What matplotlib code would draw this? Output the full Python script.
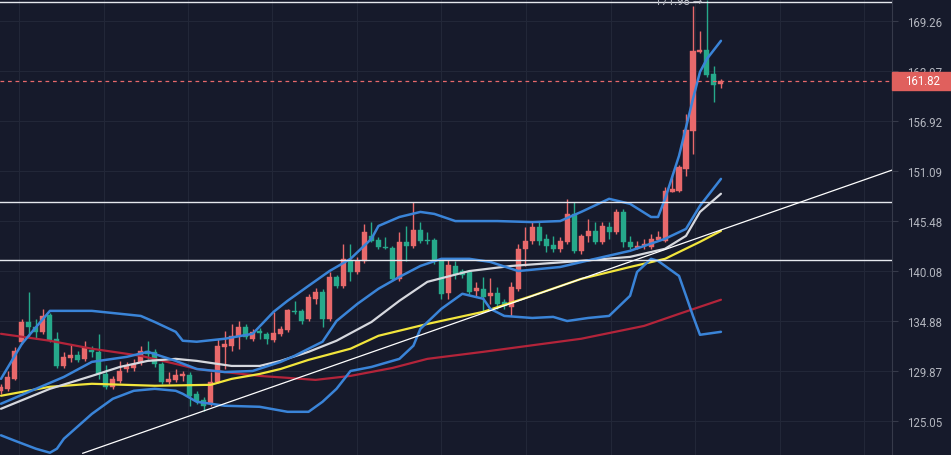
import numpy as np
import matplotlib.pyplot as plt
from matplotlib.patches import Rectangle
import matplotlib.transforms as mtransforms

# ---- candles (bar index 0..103) ----
opens = [127.97, 128.16, 129.13, 132.81, 134.81, 134.31, 133.81, 135.53, 133.11, 130.40,
         131.20, 131.50, 131.10, 132.01, 131.80, 129.61, 128.36, 128.94, 130.10, 130.20,
         130.80, 131.91, 131.80, 130.60, 128.84, 129.03, 129.42, 129.51, 127.68, 127.10,
         126.72, 128.84, 132.31, 132.41, 133.41, 134.31, 133.11, 133.91, 133.61, 133.01,
         133.61, 134.01, 135.95, 135.95, 135.12, 137.20, 137.93, 135.12, 139.49, 138.55,
         141.19, 140.01, 141.19, 143.89, 143.46, 142.70, 142.60, 139.28, 143.24, 142.81,
         144.54, 143.46, 143.46, 141.19, 137.82, 140.65, 140.11, 140.01, 138.03, 138.24,
         137.51, 137.82, 136.89, 136.37, 138.24, 142.49, 143.35, 144.86, 143.57, 142.92,
         142.49, 143.24, 146.30, 142.27, 143.89, 144.43, 143.24, 144.86, 144.32, 146.52,
         143.24, 142.60, 142.81, 142.70, 143.46, 143.35, 148.77, 148.88, 151.36, 155.79,
         165.40, 165.65, 162.64, 161.43]
highs = [128.65, 129.90, 132.31, 135.12, 137.93, 135.12, 136.16, 135.74, 133.81, 131.80,
         132.61, 131.91, 132.91, 132.41, 133.61, 130.50, 129.42, 130.90, 130.80, 131.10,
         132.41, 132.91, 132.11, 130.80, 129.80, 130.10, 129.90, 129.80, 127.97, 127.39,
         129.80, 133.11, 133.91, 134.61, 134.91, 134.61, 134.11, 134.21, 133.81, 135.85,
         134.41, 136.16, 136.99, 136.16, 137.72, 138.34, 138.24, 140.01, 139.70, 143.03,
         143.03, 141.62, 145.19, 145.40, 143.78, 143.78, 142.81, 144.32, 144.97, 147.65,
         145.40, 144.32, 143.68, 141.41, 141.41, 141.19, 140.33, 140.22, 138.97, 139.49,
         139.38, 138.45, 137.20, 138.97, 143.03, 144.86, 145.40, 145.40, 144.11, 143.89,
         143.78, 147.98, 147.65, 144.11, 145.74, 145.40, 145.40, 145.40, 146.86, 146.86,
         143.89, 143.35, 143.57, 144.11, 144.43, 149.33, 150.56, 151.82, 157.80, 171.18,
         168.04, 171.98, 163.64, 162.04]
lows = [127.68, 127.97, 129.03, 132.61, 133.31, 133.11, 133.61, 132.81, 130.20, 130.20,
        130.80, 130.80, 130.90, 131.30, 129.13, 128.16, 128.16, 128.74, 129.80, 129.90,
        130.50, 131.10, 130.30, 128.65, 128.65, 128.84, 128.94, 126.52, 126.72, 126.04,
        126.52, 128.74, 130.10, 131.91, 132.11, 133.11, 132.91, 133.11, 132.61, 132.81,
        133.41, 133.81, 135.64, 134.61, 134.91, 136.68, 134.31, 134.91, 138.34, 138.34,
        139.07, 139.80, 140.97, 143.24, 142.49, 142.49, 139.07, 139.07, 141.19, 142.60,
        143.14, 143.03, 140.87, 137.20, 137.20, 139.28, 139.38, 137.72, 137.51, 135.85,
        136.68, 136.16, 136.16, 135.43, 138.03, 140.65, 143.03, 142.92, 142.16, 142.16,
        142.16, 143.03, 142.06, 141.95, 143.24, 143.03, 143.03, 143.57, 144.11, 142.70,
        142.49, 142.49, 142.49, 142.49, 143.35, 143.24, 148.70, 148.77, 150.56, 153.11,
        165.27, 162.28, 159.26, 160.95]
closes = [128.36, 129.32, 131.91, 134.81, 134.31, 133.81, 135.43, 133.01, 130.40, 131.30,
          131.50, 131.00, 132.21, 131.80, 129.61, 128.36, 129.13, 129.90, 130.40, 130.60,
          131.91, 131.60, 130.60, 128.84, 129.13, 129.51, 129.61, 127.49, 127.01, 126.52,
          128.84, 132.41, 132.61, 133.41, 134.31, 133.31, 133.81, 133.71, 133.11, 133.71,
          134.11, 136.06, 135.85, 134.91, 137.41, 137.93, 135.12, 139.49, 138.55, 141.41,
          140.01, 141.19, 144.32, 143.35, 142.70, 142.60, 139.28, 143.24, 142.81, 144.54,
          143.35, 143.35, 141.19, 137.72, 140.76, 139.80, 139.70, 137.93, 138.34, 137.41,
          137.82, 136.68, 136.47, 138.45, 142.49, 143.35, 144.86, 143.35, 142.81, 142.49,
          143.35, 146.30, 142.27, 143.89, 144.43, 143.24, 144.97, 144.32, 146.52, 143.24,
          142.70, 142.81, 143.03, 143.57, 143.78, 148.88, 149.10, 151.59, 155.91, 165.52,
          165.65, 162.52, 161.31, 161.82]

# ---- indicator lines (bar index, price) ----
ub_idx = [0, 3, 7, 13, 20, 22, 25, 26, 28, 32, 36, 39, 41, 44, 47, 50, 53, 54, 57, 60,
          62, 65, 71, 76, 80, 83, 87, 90, 93, 94, 95, 97, 99, 100, 101, 103]
ub_val = [129.13, 132.61, 135.95, 135.95, 135.43, 134.81, 133.81, 132.91, 132.81, 133.11,
          133.61, 135.85, 136.99, 138.55, 140.11, 141.41, 143.57, 144.97, 145.96, 146.52,
          146.30, 145.51, 145.51, 145.40, 145.51, 146.52, 147.98, 147.42, 145.96, 145.96,
          147.98, 152.87, 159.62, 162.89, 164.52, 166.78]
mb_idx = [0, 9, 13, 18, 21, 25, 28, 32, 36, 40, 42, 44, 46, 48, 51, 54, 57, 60, 63, 67,
          70, 74, 80, 85, 90, 95, 98, 100, 103]
mb_val = [126.72, 129.32, 130.80, 131.30, 131.80, 130.90, 130.10, 129.80, 129.90, 130.80,
          131.40, 132.11, 132.81, 134.91, 136.68, 138.24, 139.49, 140.65, 141.41, 141.41,
          141.08, 140.11, 140.54, 141.41, 142.27, 143.57, 144.65, 147.20, 150.23]
lb_idx = [0, 2, 5, 7, 8, 9, 13, 16, 19, 22, 25, 26, 28, 32, 37, 41, 44, 46, 48, 50,
          53, 57, 59, 60, 63, 66, 69, 70, 72, 76, 79, 81, 84, 87, 90, 91, 93, 94, 97, 98,
          99, 100, 103]
lb_val = [123.73, 123.22, 122.48, 122.11, 122.48, 123.41, 125.75, 127.20, 127.97, 128.16,
          127.97, 127.68, 126.91, 126.53, 126.43, 125.95, 125.95, 126.91, 128.16, 129.90,
          130.30, 131.10, 132.41, 134.11, 136.16, 137.72, 137.20, 136.16, 135.43, 135.22,
          135.33, 134.91, 135.22, 135.43, 137.51, 140.01, 141.41, 141.19, 139.59, 137.51,
          135.43, 133.51, 133.81]
wl_idx = [0, 7, 13, 17, 21, 25, 28, 33, 37, 40, 44, 48, 53, 57, 61, 67, 73, 83, 90, 95,
          98, 100, 103]
wl_val = [126.24, 128.16, 129.42, 130.30, 130.90, 131.10, 130.90, 130.40, 130.40, 130.90,
          131.80, 132.91, 134.81, 136.99, 138.97, 140.11, 140.65, 141.19, 141.62, 142.49,
          143.89, 146.52, 148.55]
yl_idx = [0, 7, 13, 22, 30, 33, 37, 40, 44, 50, 54, 61, 69, 76, 83, 90, 95, 100, 103]
yl_val = [127.49, 128.36, 128.65, 128.46, 128.55, 129.13, 129.61, 130.10, 131.00, 132.11,
          133.41, 134.61, 135.85, 137.51, 139.28, 140.54, 141.41, 143.24, 144.43]
rl_idx = [0, 7, 13, 20, 25, 28, 32, 37, 41, 45, 50, 56, 61, 69, 83, 92, 97, 103]
rl_val = [133.61, 132.91, 132.11, 131.40, 130.60, 130.10, 129.80, 129.42, 129.23, 129.03,
          129.42, 130.20, 131.10, 131.80, 133.11, 134.41, 135.64, 137.10]

hlines = [171.81, 147.65, 141.30]
trend_x = [11.7, 127.5]
trend_y = [122.06, 151.24]
last_price = 161.82
high_mark = 171.98
yticks = [125.05, 129.87, 134.88, 140.08, 145.48, 151.09, 156.92, 162.97, 169.26]
vgrid = [2.6, 14.7, 26.8, 38.8, 50.9, 63.0, 75.1, 87.2, 99.3, 111.4, 123.5]

bg = '#161a2b'
up_c = '#e8696b'
dn_c = '#26a98b'
txt_c = '#b2b5be'
grid_c = '#222738'
band_c = '#3a84d8'

plt.rcParams['font.family'] = ['Roboto', 'DejaVu Sans']

fig = plt.figure(figsize=(9.51, 4.56), dpi=100, facecolor=bg)
ax = fig.add_axes([0, 0, 892 / 951, 1])
ax.set_facecolor(bg)
ax.set_yscale('log')
ax.set_xlim(-0.14, 127.47)
ax.set_ylim(121.90, 172.14)

# grid
for g in vgrid:
    ax.axvline(g, color=grid_c, lw=0.8, zorder=0)
for t in yticks:
    ax.axhline(t, color=grid_c, lw=0.8, zorder=0)

# candles
x = np.arange(len(opens))
o = np.array(opens); h = np.array(highs); l = np.array(lows); c = np.array(closes)
cols = [up_c if cc >= oo else dn_c for oo, cc in zip(o, c)]
ax.vlines(x, l, h, colors=cols, lw=1.0, zorder=2)
bot = np.minimum(o, c)
hgt = np.maximum(np.abs(c - o), 0.1)
ax.bar(x, hgt, bottom=bot, width=0.72, color=cols, edgecolor=cols, lw=0.3, zorder=3)

# indicators
line_kw = dict(solid_joinstyle='round', solid_capstyle='round')
ax.plot(rl_idx, rl_val, color='#b3243a', lw=1.6, zorder=4, **line_kw)
ax.plot(yl_idx, yl_val, color='#f2e53c', lw=1.6, zorder=4, **line_kw)
ax.plot(wl_idx, wl_val, color='#d6d8de', lw=1.6, zorder=4, **line_kw)
ax.plot(mb_idx, mb_val, color=band_c, lw=1.8, zorder=5, **line_kw)
ax.plot(ub_idx, ub_val, color=band_c, lw=1.8, zorder=5, **line_kw)
ax.plot(lb_idx, lb_val, color=band_c, lw=1.8, zorder=5, **line_kw)

# drawings
for hv in hlines:
    ax.axhline(hv, color='#e6e8ee', lw=1.0, zorder=6)
ax.plot(trend_x, trend_y, color='#ffffff', lw=0.9, zorder=6)
ax.axhline(last_price, color=up_c, lw=0.9, ls=(0, (3, 3)), zorder=6)

ax.text(100.3, high_mark, '%.2f \u2192' % high_mark, ha='right', va='center',
        color=txt_c, fontsize=8.3, zorder=7)

# axis
for s in ['top', 'left', 'bottom']:
    ax.spines[s].set_visible(False)
ax.spines['right'].set_color('#363a4a')
ax.set_xticks([])
ax.yaxis.tick_right()
ax.set_yticks(yticks)
ax.set_yticklabels(['%.2f' % t for t in yticks])
ax.minorticks_off()
ax.tick_params(axis='y', colors='#363a4a', labelcolor=txt_c, labelsize=8.3,
               length=4, width=0.8, pad=6.5)

# last price tag
trans = mtransforms.blended_transform_factory(ax.transAxes, ax.transData)
k = 1321.4
tag = Rectangle((1.0, last_price * np.exp(-9 / k)), 59 / 892,
                last_price * (np.exp(9 / k) - np.exp(-9 / k)),
                transform=trans, color='#e0605d', clip_on=False, zorder=10)
ax.add_patch(tag)
ax.text(1.0 + 13 / 892, last_price, '%.2f' % last_price, transform=trans,
        ha='left', va='center', color='white', fontsize=8.3, zorder=11, clip_on=False)

fig.savefig('out.png', dpi=100, facecolor=bg)
